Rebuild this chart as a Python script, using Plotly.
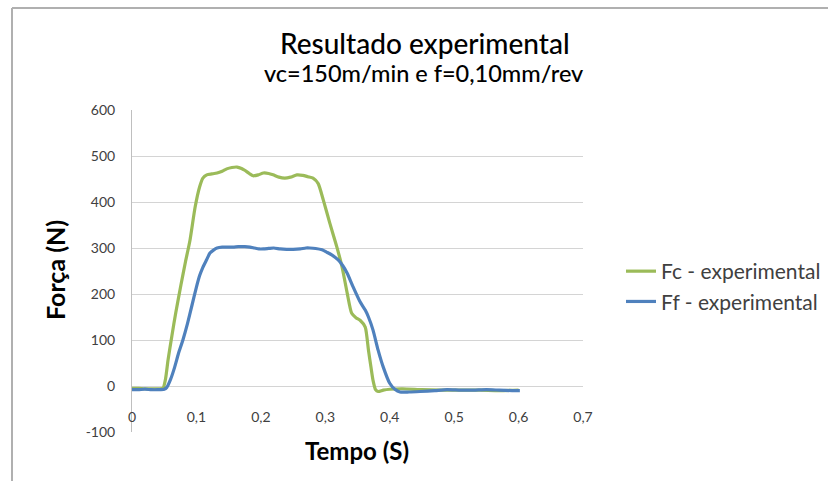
import plotly.graph_objects as go

# ---- data ----
t_fc = [0, 0.01, 0.02, 0.03, 0.04, 0.048, 0.052, 0.056, 0.062, 0.068, 0.076, 0.083, 0.09, 0.098,
        0.105, 0.11, 0.116, 0.124, 0.132, 0.14, 0.147, 0.155, 0.163, 0.17, 0.175, 0.182, 0.188,
        0.196, 0.204, 0.212, 0.219, 0.228, 0.237, 0.246, 0.256, 0.265, 0.273, 0.281, 0.289,
        0.297, 0.307, 0.318, 0.326, 0.334, 0.341, 0.348, 0.354, 0.362, 0.367, 0.371, 0.374,
        0.378, 0.382, 0.39, 0.40, 0.42, 0.45, 0.48, 0.51, 0.54, 0.57, 0.60]
fc = [-5, -5, -6, -6, -6, -5, 15, 57, 110, 160, 220, 270, 317, 389,
      433, 452, 459, 461, 463, 467, 472, 475, 476, 473, 469, 462, 457,
      459, 463, 462, 459, 454, 452, 454, 459, 458, 455, 452, 440,
      404, 354, 302, 259, 202, 158, 148, 143, 128, 78, 40, 13,
      -8, -12, -9, -7, -6, -8, -9, -9, -9, -10, -9]

t_ff = [0, 0.01, 0.02, 0.03, 0.04, 0.05, 0.054, 0.06, 0.066, 0.072, 0.079, 0.086, 0.093, 0.1,
        0.105, 0.11, 0.116, 0.121, 0.127, 0.132, 0.14, 0.15, 0.157, 0.165, 0.175, 0.183, 0.19,
        0.197, 0.204, 0.212, 0.22, 0.23, 0.24, 0.25, 0.261, 0.27, 0.276, 0.285, 0.295, 0.302,
        0.31, 0.32, 0.327, 0.334, 0.343, 0.354, 0.362, 0.367, 0.374, 0.382, 0.39, 0.40, 0.408,
        0.416, 0.43, 0.447, 0.47, 0.489, 0.51, 0.53, 0.55, 0.57, 0.59, 0.602]
ff = [-8, -8, -7, -8, -8, -7, -3, 15, 40, 70, 100, 135, 175, 215,
      240, 258, 275, 289, 296, 300, 302, 302, 302, 303, 303, 302, 300,
      298, 298, 299, 300, 298, 297, 297, 298, 300, 300, 299, 296, 291,
      285, 274, 262, 245, 216, 183, 165, 150, 122, 78, 41, 6, -7,
      -13, -13, -12, -10, -8, -9, -9, -8, -9, -10, -10]

series_names = ["Fc - experimental", "Ff - experimental"]
x_tickvals = [0, 0.1, 0.2, 0.3, 0.4, 0.5, 0.6, 0.7]
x_ticktext = ["0", "0,1", "0,2", "0,3", "0,4", "0,5", "0,6", "0,7"]
y_tickvals = [-100, 0, 100, 200, 300, 400, 500, 600]
y_ticktext = ["-100", "0", "100", "200", "300", "400", "500", "600"]
title_lines = ["Resultado experimental", "vc=150m/min e f=0,10mm/rev"]
x_title = "Tempo (S)"
y_title = "Força (N)"

# ---- layout geometry ----
W, H = 828, 481
L, R, T, B = 132, 583, 110, 432
pw, ph = R - L, B - T

def px(x):
    return (x - L) / pw

def py(y):
    return (B - y) / ph

FONT = "Lato"
GREEN = "#9BBB59"
BLUE = "#4F81BD"
GRID = "#D4D4D4"

fig = go.Figure()
fig.add_trace(go.Scatter(x=t_fc, y=fc, mode="lines", name=series_names[0],
                         line=dict(color=GREEN, width=3.2, shape="spline", smoothing=0.6),
                         legendgroup="a"))
fig.add_trace(go.Scatter(x=t_ff, y=ff, mode="lines", name=series_names[1],
                         line=dict(color=BLUE, width=3.2, shape="spline", smoothing=0.6),
                         legendgroup="b"))

def ann(text, x, y, size, angle=0, weight="normal"):
    return dict(text=text, x=px(x), y=py(y), xref="paper", yref="paper",
                xanchor="center", yanchor="middle", showarrow=False, textangle=angle,
                font=dict(size=size, color="black", family=FONT, weight=weight))

fig.update_layout(
    width=W, height=H,
    margin=dict(l=L, r=W - R, t=T, b=H - B, pad=0, autoexpand=False),
    paper_bgcolor="white", plot_bgcolor="white",
    font=dict(family=FONT, color="#404040"),
    showlegend=True,
    legend=dict(x=px(621), y=py(251), xanchor="left", yanchor="top",
                font=dict(size=21, color="#404040", family=FONT),
                tracegroupgap=16, traceorder="normal",
                bgcolor="rgba(0,0,0,0)"),
    xaxis=dict(range=[0, 0.7], tickvals=x_tickvals, ticktext=x_ticktext,
               anchor="free", position=py(386), showgrid=False, zeroline=False,
               showline=False, ticks="outside", ticklen=18,
               tickcolor="rgba(0,0,0,0)", tickfont=dict(size=14, color="#404040")),
    yaxis=dict(range=[-100, 600], tickvals=y_tickvals, ticktext=y_ticktext,
               showgrid=True, gridcolor=GRID, gridwidth=1, zeroline=False,
               showline=True, linecolor="#BFBFBF", linewidth=1,
               ticks="outside", ticklen=13, tickcolor="rgba(0,0,0,0)",
               tickfont=dict(size=14, color="#404040")),
    annotations=[
        ann(title_lines[0], 425, 43, 28, weight=500),
        ann(title_lines[1], 423, 73, 23.5, weight=500),
        ann(x_title, 357, 450, 24, weight="bold"),
        ann(y_title, 55, 270, 25, angle=-90, weight="bold"),
    ],
    shapes=[
        dict(type="line", xref="paper", yref="paper", x0=px(12), x1=px(12), y0=py(481), y1=py(8),
             line=dict(color="#B0B0B0", width=2)),
        dict(type="line", xref="paper", yref="paper", x0=px(12), x1=px(828), y0=py(8), y1=py(8),
             line=dict(color="#B0B0B0", width=2)),
    ],
)

fig.write_html("out.html")
